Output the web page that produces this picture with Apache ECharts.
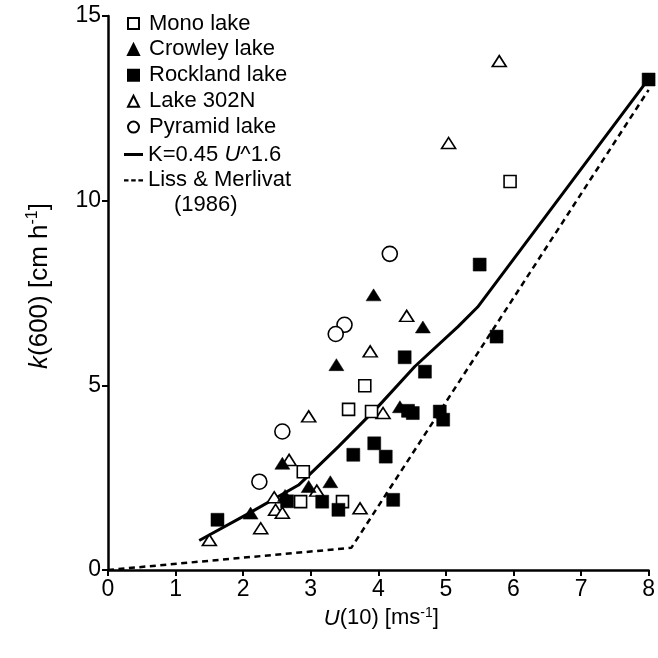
<!DOCTYPE html>
<html>
<head>
<meta charset="utf-8">
<script src="https://cdn.jsdelivr.net/npm/echarts@6/dist/echarts.min.js"></script>
<style>
  html, body { margin: 0; padding: 0; background: #fff; }
  #chart { width: 658px; height: 658px; }
</style>
</head>
<body>
<div id="chart"></div>
<script>
// Gas transfer velocity k(600) against wind speed U(10), five lakes
const monoLake = [
  [5.95, 10.52], [3.80, 4.99], [3.56, 4.35], [3.90, 4.29],
  [2.89, 2.66], [2.85, 1.85], [3.47, 1.85]
];
const crowleyLake = [
  [3.93, 7.45], [4.66, 6.58], [3.38, 5.56], [4.32, 4.42],
  [2.58, 2.89], [3.29, 2.39], [2.97, 2.26], [2.62, 2.02], [2.11, 1.54]
];
const rocklandLake = [
  [8.00, 13.28], [5.50, 8.27], [5.75, 6.32], [4.39, 5.76], [4.69, 5.37],
  [4.44, 4.31], [4.51, 4.25], [4.91, 4.29], [4.96, 4.07],
  [3.63, 3.12], [3.94, 3.43], [4.11, 3.07], [4.22, 1.90],
  [3.17, 1.85], [3.41, 1.63], [2.65, 1.86], [1.62, 1.36]
];
const lake302N = [
  [5.79, 13.78], [5.04, 11.56], [4.42, 6.88], [3.88, 5.92], [4.07, 4.25],
  [2.97, 4.16], [2.68, 2.98], [2.46, 1.97], [2.48, 1.63], [2.58, 1.55],
  [3.09, 2.15], [3.73, 1.67], [2.26, 1.13], [1.50, 0.81]
];
const pyramidLake = [
  [4.17, 8.56], [3.50, 6.64], [3.37, 6.39], [2.58, 3.75], [2.24, 2.39]
];
// Fitted relation K = 0.45 U^1.6 as drawn
const fitCurve = [
  [1.35, 0.80], [2.09, 1.54], [2.82, 2.30], [3.41, 3.34], [4.00, 4.43],
  [4.54, 5.51], [5.18, 6.59], [5.47, 7.12], [8.00, 13.30]
];
// Liss & Merlivat (1986) relation
const lissMerlivat = [
  [0, 0], [3.60, 0.60], [8.00, 13.00]
];
const xTicks = { min: 0, max: 8, step: 1 };
const yTicks = { min: 0, max: 15, step: 5 };

const INK = '#000';
const FONT = 'Liberation Sans, Arial, Helvetica, sans-serif';

function openStyle() {
  return { color: '#fff', borderColor: INK, borderWidth: 1.6, opacity: 1 };
}
function filledStyle() {
  return { color: INK, borderColor: INK, borderWidth: 0.5, opacity: 1 };
}

const legendText = { fontFamily: FONT, fontSize: 22, color: INK, lineHeight: 23 };

const chart = echarts.init(document.getElementById('chart'), null, { renderer: 'canvas' });

chart.setOption({
  backgroundColor: '#fff',
  animation: false,
  textStyle: { fontFamily: FONT, color: INK },
  grid: { left: 108, right: 6, top: 16, bottom: 88, containLabel: false },
  legend: [
    {
      data: ['Mono lake', 'Crowley lake', 'Rockland lake', 'Lake 302N', 'Pyramid lake'],
      orient: 'vertical',
      left: 127,
      top: 12,
      padding: 0,
      itemWidth: 11,
      itemHeight: 11,
      itemGap: 2.9,
      selectedMode: false,
      textStyle: Object.assign({}, legendText, { padding: [0, 0, 0, 5] })
    },
    {
      data: [
        { name: 'K=0.45 U^1.6', icon: 'path://M0,0h19v3h-19z' },
        { name: 'Liss & Merlivat', icon: 'path://M0,0h4.5v2.4h-4.5zM7.2,0h4.5v2.4h-4.5zM14.4,0h4.6v2.4h-4.6z' }
      ],
      orient: 'vertical',
      left: 124,
      top: 143,
      padding: 0,
      itemWidth: 19,
      itemHeight: 3,
      itemGap: 2.9,
      selectedMode: false,
      formatter: function (name) {
        return name === 'K=0.45 U^1.6' ? 'K=0.45 {i|U}^1.6' : name;
      },
      textStyle: Object.assign({}, legendText, {
        rich: { i: { fontFamily: FONT, fontSize: 22, fontStyle: 'italic', color: INK } }
      })
    }
  ],
  graphic: [
    {
      type: 'text',
      left: 174,
      top: 194,
      style: { text: '(1986)', font: '22px ' + FONT, fill: INK }
    }
  ],
  xAxis: {
    type: 'value',
    min: xTicks.min,
    max: xTicks.max,
    interval: xTicks.step,
    name: '{i|U}(10) [ms{s|-1}]',
    nameLocation: 'middle',
    nameGap: 30,
    nameTextStyle: {
      fontFamily: FONT, fontSize: 22, color: INK,
      padding: [0, 0, 0, 6],
      rich: {
        i: { fontFamily: FONT, fontSize: 22, fontStyle: 'italic', color: INK },
        s: { fontFamily: FONT, fontSize: 14, color: INK, verticalAlign: 'top', lineHeight: 25 }
      }
    },
    axisLine: { show: true, onZero: false, lineStyle: { color: INK, width: 2.5 } },
    axisTick: { show: true, inside: false, length: 6, lineStyle: { color: INK, width: 2 } },
    axisLabel: { fontFamily: FONT, fontSize: 23, color: INK, margin: 8 },
    splitLine: { show: false }
  },
  yAxis: {
    type: 'value',
    min: yTicks.min,
    max: yTicks.max,
    interval: yTicks.step,
    name: '{i|k}(600) [cm h{s|-1}]',
    nameLocation: 'middle',
    nameRotate: 90,
    nameGap: 54,
    nameTextStyle: {
      fontFamily: FONT, fontSize: 26, color: INK,
      padding: [0, 0, 0, 14],
      rich: {
        i: { fontFamily: FONT, fontSize: 26, fontStyle: 'italic', color: INK },
        s: { fontFamily: FONT, fontSize: 16, color: INK, verticalAlign: 'top', lineHeight: 29 }
      }
    },
    axisLine: { show: true, onZero: false, lineStyle: { color: INK, width: 2.5 } },
    axisTick: { show: true, inside: false, length: 6, lineStyle: { color: INK, width: 2 } },
    axisLabel: { fontFamily: FONT, fontSize: 23, color: INK, margin: 7 },
    splitLine: { show: false }
  },
  series: [
    {
      name: 'Liss & Merlivat',
      type: 'line',
      data: lissMerlivat,
      symbol: 'none',
      lineStyle: { color: INK, width: 2.5, type: [6, 4.5] },
      itemStyle: { color: INK },
      z: 1
    },
    {
      name: 'K=0.45 U^1.6',
      type: 'line',
      data: fitCurve,
      symbol: 'none',
      lineStyle: { color: INK, width: 3 },
      itemStyle: { color: INK },
      z: 2
    },
    {
      name: 'Lake 302N',
      type: 'scatter',
      data: lake302N,
      symbol: 'triangle',
      symbolSize: [14, 11],
      itemStyle: openStyle(),
      z: 3
    },
    {
      name: 'Pyramid lake',
      type: 'scatter',
      data: pyramidLake,
      symbol: 'circle',
      symbolSize: 15,
      itemStyle: openStyle(),
      z: 3
    },
    {
      name: 'Mono lake',
      type: 'scatter',
      data: monoLake,
      symbol: 'rect',
      symbolSize: 12,
      itemStyle: openStyle(),
      z: 4
    },
    {
      name: 'Crowley lake',
      type: 'scatter',
      data: crowleyLake,
      symbol: 'triangle',
      symbolSize: [15, 12],
      itemStyle: filledStyle(),
      z: 5
    },
    {
      name: 'Rockland lake',
      type: 'scatter',
      data: rocklandLake,
      symbol: 'rect',
      symbolSize: 13,
      itemStyle: filledStyle(),
      z: 5
    }
  ]
});
</script>
</body>
</html>
